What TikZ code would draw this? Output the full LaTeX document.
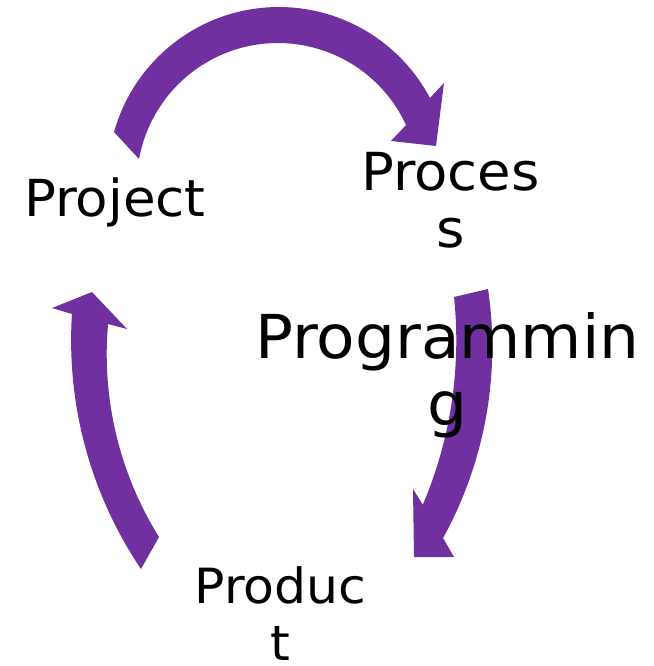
\documentclass[tikz,border=0pt]{standalone}
\usepackage{fontspec}
\setmainfont{DejaVu Sans}
\newfontfamily\widefont[FakeStretch=1.04]{DejaVu Sans}
\definecolor{cyclepurple}{HTML}{7030A0}
\tikzset{
  blockarrow/.style={fill=cyclepurple, draw=none},
  lbl/.style={inner sep=0pt, align=center, text=black, anchor=base}
}
\begin{document}
\begin{tikzpicture}[x=1pt,y=-1pt]
\useasboundingbox (0,0) rectangle (653,666);
% top arrow: Project -> Process
\fill[blockarrow] (114,132)
  -- plot[domain=-164.37:-27.92,samples=60] ({278.8+171.1*cos(\x)},{178.1+171.1*sin(\x)})
  -- (444,83) -- (436,146) -- (391,141) -- (406,125)
  -- plot[domain=-24.77:-169.76,samples=60] ({277.9+141.1*cos(\x)},{184.1+141.1*sin(\x)})
  -- cycle;
% right arrow: Process -> Product
\fill[blockarrow] (454,297) -- (488,289)
  -- plot[domain=-8.41:28.88,samples=60] ({96.6+395.7*cos(\x)},{346.9+395.7*sin(\x)})
  -- (454,557) -- (414,557) -- (413,489) -- (423,505)
  -- plot[domain=23.06:-5.95,samples=60] ({36.5+419.8*cos(\x)},{340.5+419.8*sin(\x)})
  -- cycle;
% left arrow: Product -> Project
\fill[blockarrow] (141,569)
  -- plot[domain=146.02:183.70,samples=60] ({480.2+409.1*cos(\x)},{340.4+409.1*sin(\x)})
  -- (52,308) -- (92,292) -- (127,329) -- (108,324)
  -- plot[domain=185.01:148.07,samples=60] ({452.3+345.6*cos(\x)},{354.2+345.6*sin(\x)})
  -- cycle;
% labels
\node[lbl, font=\widefont\fontsize{51}{57}\selectfont] (project) at (115,216) {Project};
\node[lbl, font=\widefont\fontsize{52.4}{57}\selectfont] (process) at (450.5,247) {Proces\\s};
\node[lbl, font=\widefont\fontsize{48.5}{57}\selectfont] (product) at (280.5,660) {Produc\\t};
\node[lbl, font=\widefont\fontsize{60.5}{67}\selectfont] (programming) at (447.5,425) {Programmin\\g};
\end{tikzpicture}
\end{document}
